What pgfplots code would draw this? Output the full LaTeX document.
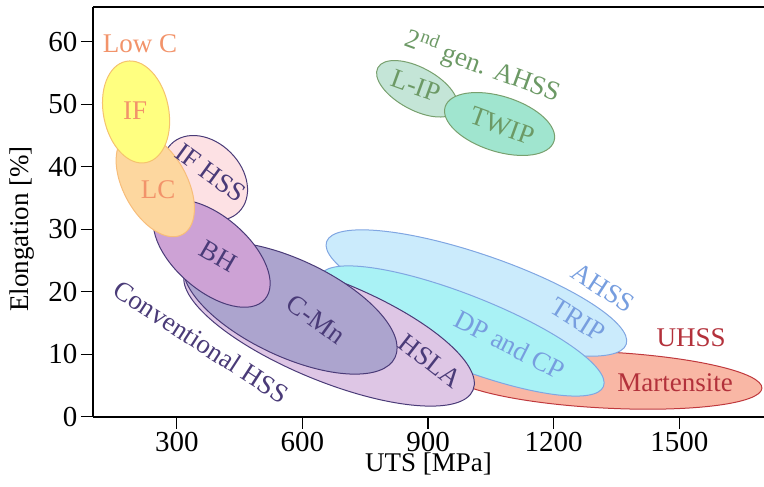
\documentclass[border=0pt]{standalone}
\usepackage{pgfplots}
\pgfplotsset{compat=1.18}
\usepackage{fontspec}
\setmainfont{Liberation Serif}

% region fills, outlines and label colours
\definecolor{ifFill}{HTML}{FFFF80}
\definecolor{ifEdge}{HTML}{F5C36E}
\definecolor{lcFill}{HTML}{FDD79F}
\definecolor{lcEdge}{HTML}{F7BD7A}
\definecolor{lowText}{HTML}{F2936A}
\definecolor{ifhssFill}{HTML}{FDE1E4}
\definecolor{purpEdge}{HTML}{4A3B78}
\definecolor{bhFill}{HTML}{CDA2D5}
\definecolor{cmnFill}{HTML}{ACA4CE}
\definecolor{hslaFill}{HTML}{DEC6E5}
\definecolor{tripFill}{HTML}{CBEBFC}
\definecolor{dpFill}{HTML}{A9F2F5}
\definecolor{blueEdge}{HTML}{80A6E2}
\definecolor{blueText}{HTML}{779EDF}
\definecolor{martFill}{HTML}{F9B7A5}
\definecolor{redEdge}{HTML}{C0393D}
\definecolor{redText}{HTML}{B3313B}
\definecolor{lipFill}{HTML}{C4E5D7}
\definecolor{twipFill}{HTML}{A0E5CF}
\definecolor{greenEdge}{HTML}{78A06E}
\definecolor{greenText}{HTML}{6C9965}

\newcommand\lblfont{\fontsize{27}{31}\selectfont}
\newcommand\tickfont{\fontsize{29}{33}\selectfont}

\begin{document}
\begin{tikzpicture}
\begin{axis}[
  name=ax,
  scale only axis,
  width=671pt, height=409.7pt,
  xmin=100, xmax=1702, ymin=0, ymax=65.55,
  axis x line*=box, axis y line*=left,
  axis line style={-, line width=1.6pt},
  xtick={300,600,900,1200,1500},
  ytick={0,10,20,30,40,50,60},
  xtick pos=bottom, ytick pos=left,
  tick align=outside,
  major tick length=12pt,
  tick style={line width=1.2pt, black},
  scaled ticks=false,
  /pgf/number format/1000 sep={},
  /pgf/number format/assume math mode=true,
  tick label style={font=\tickfont},
  xlabel={UTS [MPa]},
  ylabel={Elongation [\%]},
  label style={font=\lblfont},
  xlabel style={at={(axis description cs:0.5,0)}, anchor=center, yshift=-47pt},
  ylabel style={at={(axis description cs:0,0.458)}, anchor=center, yshift=71pt},
  region/.style={line width=1pt, smooth cycle, tension=1},
]
% each region: ends of its two principal axes (UTS, elongation)
\addplot[region, draw=redEdge, fill=martFill] coordinates {(1697.0,4.56) (1319.0,1.39) (948.2,7.18) (1326.2,10.35)};
\addplot[region, draw=blueEdge, fill=tripFill] coordinates {(1373.0,11.58) (985.2,13.92) (657.7,28.0) (1045.4,25.66)};
\addplot[region, draw=blueEdge, fill=dpFill] coordinates {(1318.8,4.85) (949.4,8.27) (643.6,22.58) (1012.9,19.15)};
\addplot[region, draw=purpEdge, fill=hslaFill] coordinates {(1007.4,4.27) (618.3,6.30) (319.8,23.15) (709.0,21.12)};
\addplot[region, draw=purpEdge, fill=cmnFill] coordinates {(821.2,9.49) (521.3,10.38) (319.8,25.30) (619.7,24.40)};
\addplot[region, draw=purpEdge, fill=ifhssFill] coordinates {(448.5,32.77) (306.7,34.11) (286.6,43.62) (428.5,42.27)};
\addplot[region, draw=purpEdge, fill=bhFill] coordinates {(510.3,18.78) (325.8,21.63) (256.8,33.44) (441.3,30.59)};
\addplot[region, draw=lcEdge, fill=lcFill] coordinates {(314.1,29.17) (182.1,34.69) (183.2,45.14) (315.3,39.62)};
\addplot[region, draw=ifEdge, fill=ifFill] coordinates {(226.9,40.66) (126.4,47.73) (178.7,56.85) (279.2,49.78)};
\addplot[region, draw=greenEdge, fill=lipFill] coordinates {(967.3,49.09) (849.6,49.47) (780.1,55.84) (897.9,55.46)};
\addplot[region, draw=greenEdge, fill=twipFill] coordinates {(1200.6,44.08) (1050.9,42.62) (940.8,49.58) (1090.5,51.04)};

% labels
\begin{scope}[every node/.style={font=\lblfont, inner sep=0pt}]
\node[text=lowText] at (axis cs:212.4,59.6) {Low C};
\node[text=lowText] at (axis cs:200.4,48.9) {IF};
\node[text=lowText] at (axis cs:255.4,36.3) {LC};
\node[text=purpEdge, rotate=-36] at (axis cs:381,39.0) {IF HSS};
\node[text=purpEdge, rotate=-30] at (axis cs:398.6,25.6) {BH};
\node[text=purpEdge, rotate=-36] at (axis cs:632.6,15.5) {C-Mn};
\node[text=purpEdge, rotate=-38] at (axis cs:904.8,8.9) {HSLA};
\node[text=purpEdge, rotate=-33] at (axis cs:358.0,11.95) {Conventional HSS};
\node[text=blueText, rotate=-27] at (axis cs:1095.8,11.5) {DP and CP};
\node[text=blueText, rotate=-32] at (axis cs:1258.2,15.5) {TRIP};
\node[text=blueText, rotate=-33] at (axis cs:1317.9,20.6) {AHSS};
\node[text=redText] at (axis cs:1528.0,12.6) {UHSS};
\node[text=redText] at (axis cs:1489.8,5.4) {Martensite};
\node[text=greenText, rotate=-20] at (axis cs:1031.3,56.1) {2\textsuperscript{nd} gen. AHSS};
\node[text=greenText, rotate=-20] at (axis cs:871.3,52.9) {L-IP};
\node[text=greenText, rotate=-20] at (axis cs:1076.7,46.5) {TWIP};
\end{scope}
\end{axis}
\pgfresetboundingbox
\path[use as bounding box] ([xshift=-93pt,yshift=-69.3pt]ax.south west) rectangle ([yshift=7pt]ax.north east);
\end{tikzpicture}
\end{document}
